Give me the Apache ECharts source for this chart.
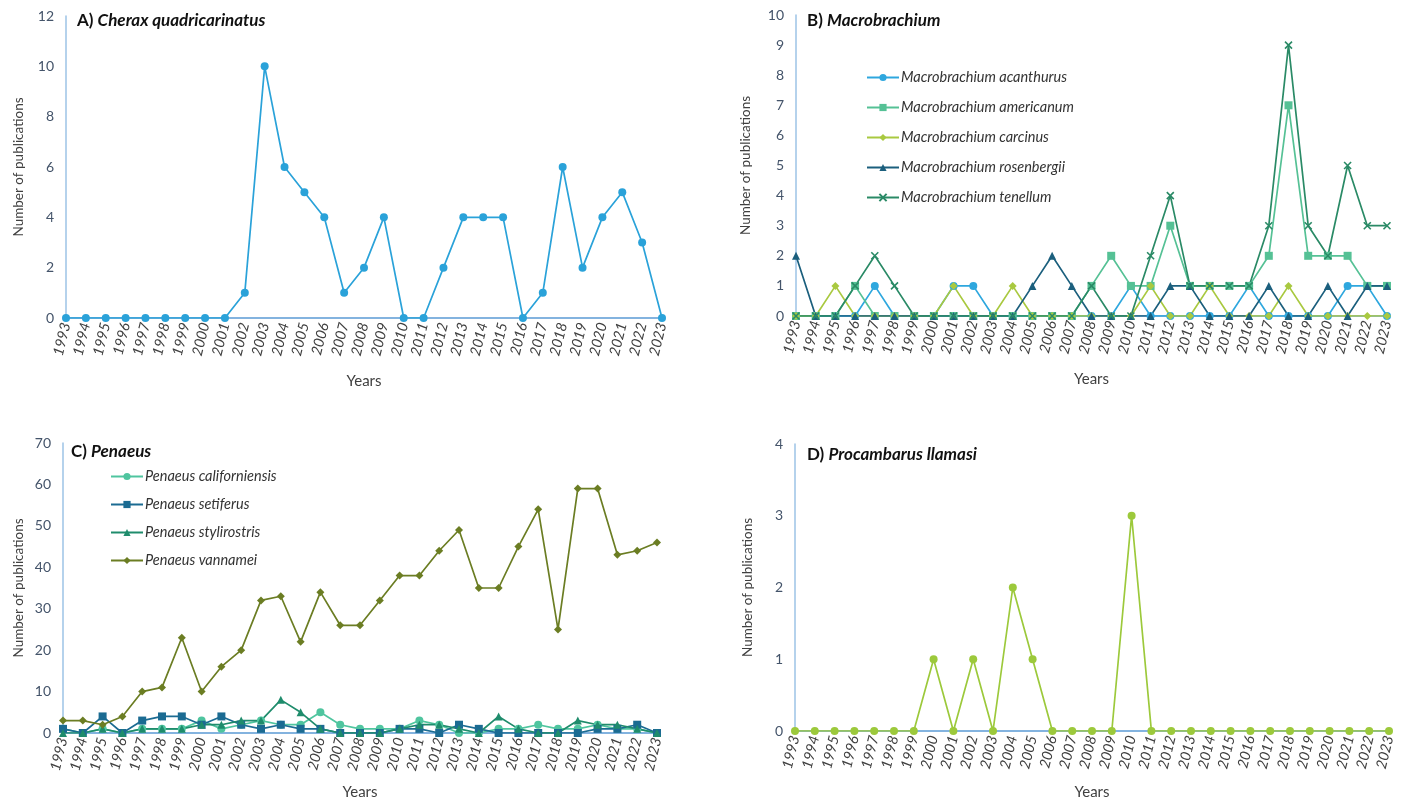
<!DOCTYPE html>
<html>
<head>
<meta charset="utf-8">
<script src="https://cdn.jsdelivr.net/npm/echarts@6/dist/echarts.min.js"></script>
<style>
  html, body { margin: 0; padding: 0; background: #fff; }
  #chart { width: 1405px; height: 801px; }
</style>
</head>
<body>
<div id="chart"></div>
<script>
// Publication counts per year for four groups of freshwater crustaceans
const years = ['1993','1994','1995','1996','1997','1998','1999','2000','2001','2002',
  '2003','2004','2005','2006','2007','2008','2009','2010','2011','2012','2013','2014',
  '2015','2016','2017','2018','2019','2020','2021','2022','2023'];

// A) Cherax quadricarinatus
const cherax = [0,0,0,0,0,0,0,0,0,1,10,6,5,4,1,2,4,0,0,2,4,4,4,0,1,6,2,4,5,3,0];

// B) Macrobrachium
const mAcanthurus  = [0,0,0,0,1,0,0,0,1,1,0,0,0,0,0,0,0,1,0,0,0,0,0,1,0,0,0,0,1,1,0];
const mAmericanum  = [0,0,0,1,0,0,0,0,0,0,0,0,0,0,0,1,2,1,1,3,1,1,1,1,2,7,2,2,2,1,1];
const mCarcinus    = [0,0,1,0,0,0,0,0,1,0,0,1,0,0,0,0,0,0,1,0,0,1,0,0,0,1,0,0,0,0,0];
const mRosenbergii = [2,0,0,0,0,0,0,0,0,0,0,0,1,2,1,0,0,0,0,1,1,0,0,0,1,0,0,1,0,1,1];
const mTenellum    = [0,0,0,1,2,1,0,0,0,0,0,0,0,0,0,1,0,0,2,4,1,1,1,1,3,9,3,2,5,3,3];

// C) Penaeus
const pCaliforniensis = [1,0,1,0,1,1,1,3,1,2,3,2,2,5,2,1,1,1,3,2,0,0,1,1,2,1,1,2,1,1,0];
const pSetiferus      = [1,0,4,0,3,4,4,2,4,2,1,2,1,1,0,0,0,1,1,0,2,1,0,0,0,0,0,1,1,2,0];
const pStylirostris   = [0,0,1,0,1,1,1,2,2,3,3,8,5,1,0,0,0,1,2,2,1,0,4,1,0,0,3,2,2,1,0];
const pVannamei       = [3,3,2,4,10,11,23,10,16,20,32,33,22,34,26,26,32,38,38,44,49,35,35,45,54,25,59,59,43,44,46];

// D) Procambarus llamasi
const procambarus = [0,0,0,0,0,0,0,1,0,1,0,2,1,0,0,0,0,3,0,0,0,0,0,0,0,0,0,0,0,0,0];

const FONT = 'Lato, "Open Sans", sans-serif';
const Y_AXIS_BLUE = '#9dc3e6';
const X_AXIS_BLUE = '#5b9bd5';
const crossSymbol = 'path://M0,0L10,10M10,0L0,10';

function titleFor(letter, name, left, top) {
  return {
    text: '{a|' + letter + ') }{b|' + name + '}',
    left: left, top: top,
    textStyle: {
      rich: {
        a: { fontFamily: FONT, fontSize: 17, fontWeight: 'bold', color: '#111' },
        b: { fontFamily: FONT, fontSize: 17, fontWeight: 'bold', fontStyle: 'italic', color: '#111' }
      }
    }
  };
}

function xAxisFor(gridIndex, nameGap) {
  return {
    type: 'category', gridIndex: gridIndex, data: years, boundaryGap: false,
    name: 'Years', nameLocation: 'middle', nameGap: nameGap,
    nameTextStyle: { fontFamily: FONT, fontSize: 15, color: '#404040' },
    axisLine: { show: true, lineStyle: { color: X_AXIS_BLUE, width: 1.5 } },
    axisTick: { show: false },
    axisLabel: { interval: 0, rotate: 76, fontStyle: 'italic', fontFamily: FONT,
                 fontSize: 14.5, color: '#404040', margin: 5 },
    splitLine: { show: false }
  };
}

function yAxisFor(gridIndex, max, interval, nameGap) {
  return {
    type: 'value', gridIndex: gridIndex, min: 0, max: max, interval: interval,
    name: 'Number of publications', nameLocation: 'middle', nameGap: nameGap,
    nameTextStyle: { fontFamily: FONT, fontSize: 13.5, color: '#404040' },
    axisLine: { show: true, lineStyle: { color: Y_AXIS_BLUE, width: 1.5 } },
    axisTick: { show: false },
    axisLabel: { fontFamily: FONT, fontSize: 14, color: '#44546a', margin: 12 },
    splitLine: { show: false }
  };
}

function lineSeries(name, data, xi, color, symbol, size, extra) {
  const s = {
    name: name, type: 'line', xAxisIndex: xi, yAxisIndex: xi, data: data,
    symbol: symbol, symbolSize: size, showSymbol: true,
    lineStyle: { color: color, width: 1.7 },
    itemStyle: { color: color },
    emphasis: { disabled: true },
    animation: false
  };
  if (symbol === crossSymbol) {
    s.itemStyle = { color: 'rgba(0,0,0,0)', borderColor: color, borderWidth: 1.6 };
  }
  return Object.assign(s, extra || {});
}

const cAcanthurus = '#2ea7de', cAmericanum = '#55c195', cCarcinus = '#a9c940',
      cRosenbergii = '#1b5f7d', cTenellum = '#2a8a66';
const cCalif = '#4fc59f', cSetif = '#1b6b92', cStyli = '#1f8c6c', cVann = '#6b7d23';
const cCherax = '#2aa2d9', cProc = '#9cc93b';

const legendText = { fontFamily: FONT, fontSize: 14.5, fontStyle: 'italic', color: '#333', padding: [0, 0, 0, -3] };

const option = {
  backgroundColor: '#fff',
  animation: false,
  title: [
    titleFor('A', 'Cherax quadricarinatus', 72, 7),
    titleFor('B', 'Macrobrachium', 802, 7),
    titleFor('C', 'Penaeus', 66, 438),
    titleFor('D', 'Procambarus llamasi', 802, 441)
  ],
  legend: [
    {
      data: ['Macrobrachium acanthurus', 'Macrobrachium americanum', 'Macrobrachium carcinus',
             'Macrobrachium rosenbergii', 'Macrobrachium tenellum'],
      orient: 'vertical', left: 861, top: 65, itemGap: 15, itemWidth: 32, itemHeight: 9,
      textStyle: legendText
    },
    {
      data: ['Penaeus californiensis', 'Penaeus setiferus', 'Penaeus stylirostris', 'Penaeus vannamei'],
      orient: 'vertical', left: 105, top: 464, itemGap: 13, itemWidth: 32, itemHeight: 9,
      textStyle: legendText
    }
  ],
  grid: [
    { left: 66, right: 743, top: 16, bottom: 483 },
    { left: 796, right: 18, top: 15, bottom: 485 },
    { left: 63, right: 748, top: 443, bottom: 68 },
    { left: 795, right: 16, top: 444, bottom: 70 }
  ],
  xAxis: [xAxisFor(0, 56), xAxisFor(1, 56), xAxisFor(2, 52), xAxisFor(3, 54)],
  yAxis: [yAxisFor(0, 12, 2, 40), yAxisFor(1, 10, 1, 43), yAxisFor(2, 70, 10, 37), yAxisFor(3, 4, 1, 40)],
  series: [
    lineSeries('Cherax quadricarinatus', cherax, 0, cCherax, 'circle', 8),

    lineSeries('Macrobrachium acanthurus', mAcanthurus, 1, cAcanthurus, 'circle', 8),
    lineSeries('Macrobrachium americanum', mAmericanum, 1, cAmericanum, 'rect', 8),
    lineSeries('Macrobrachium carcinus', mCarcinus, 1, cCarcinus, 'diamond', 8),
    lineSeries('Macrobrachium rosenbergii', mRosenbergii, 1, cRosenbergii, 'triangle', 8),
    lineSeries('Macrobrachium tenellum', mTenellum, 1, cTenellum, crossSymbol, 7),

    lineSeries('Penaeus californiensis', pCaliforniensis, 2, cCalif, 'circle', 8),
    lineSeries('Penaeus setiferus', pSetiferus, 2, cSetif, 'rect', 8),
    lineSeries('Penaeus stylirostris', pStylirostris, 2, cStyli, 'triangle', 8),
    lineSeries('Penaeus vannamei', pVannamei, 2, cVann, 'diamond', 8),

    lineSeries('Procambarus llamasi', procambarus, 3, cProc, 'circle', 8)
  ]
};

const chart = echarts.init(document.getElementById('chart'), null, { renderer: 'canvas' });
chart.setOption(option);
</script>
</body>
</html>
